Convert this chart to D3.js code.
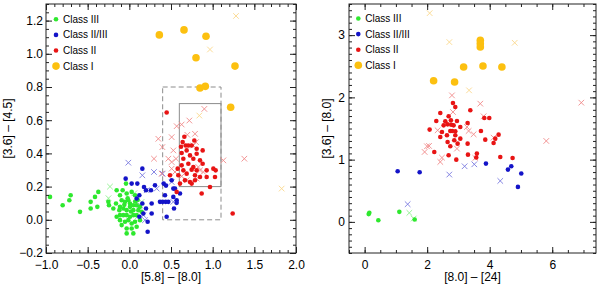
<!DOCTYPE html>
<html>
<head>
<meta charset="utf-8">
<script src="https://cdn.jsdelivr.net/npm/d3@7"></script>
<style>
  body { margin: 0; background: #fff; }
  svg { font-family: "Liberation Sans", Arial, Helvetica, sans-serif; }
</style>
</head>
<body>
<div id="chart-area"></div>
<script>
// ---- data: left panel  ([5.8]-[8.0] vs [3.6]-[4.5]) ----
let leftClassIII = [[-0.952,0.138],[-0.8,0.088],[-0.72,0.118],[-0.704,0.148],[-0.592,0.048],[-0.464,0.108],[-0.464,0.068],
  [-0.412,0.138],[-0.372,0.168],[-0.384,0.078],[-0.252,0.108],[-0.244,0.088],[-0.152,0.178],[-0.04,0.218],[-0.08,0.178],
  [-0.112,0.148],[-0.032,0.158],[0.028,0.168],[0.068,0.148],[-0.092,0.118],[-0.052,0.108],[-0.012,0.118],[0.008,0.098],
  [0.048,0.088],[0.088,0.088],[-0.112,0.078],[-0.072,0.068],[-0.032,0.058],[0.008,0.078],[0.048,0.058],[0.108,0.058],
  [-0.112,0.028],[-0.072,0.028],[-0.032,0.028],[0.008,0.018],[0.048,0.028],[0.088,0.028],[-0.112,-0.002],[-0.052,-0.012],
  [-0.012,-0.002],[0.028,-0.022],[0.068,-0.012],[-0.092,-0.032],[-0.032,-0.052],[0.028,-0.052],[0.088,-0.042],
  [-0.032,-0.082],[0.048,-0.082],[-0.12,0.058],[0.128,0.078],[0.148,0.048],[-0.16,0.098],[-0.192,0.068],[0.128,-0.002],
  [-0.152,0.018],[-0.06,0.09],[0.02,0.05],[0.07,0.11],[-0.02,0.13],[0.1,0.12]]
let leftClassIIIx = [[-0.232,0.2],[0.148,0.108],[0.1,0.02],[-0.25,0.13],[0.06,0.16]]

let leftClassIIIII = [[0.156,0.308],[-0.044,0.248],[0.028,0.218],[0.096,0.218],[0.176,0.198],[0.2,0.178],[0.26,0.178],
  [0.12,0.148],[0.088,0.128],[0.156,0.098],[0.268,0.098],[0.2,0.068],[0.168,0.038],[0.268,0.038],[0.12,0.018],
  [0.22,-0.012],[0.22,-0.072],[0.368,0.108],[0.4,0.108],[0.436,0.108],[0.468,0.108],[0.428,0.148],[0.412,0.218],
  [0.528,0.138],[0.568,0.102],[0.448,0.018],[0.608,0.158],[0.528,0.188],[0.308,0.208],[0.44,0.206],[0.508,0.238],
  [0.548,0.188],[0.536,0.068],[0.568,0.118]]
let leftClassIIIIIx = [[-0.012,0.344],[0.156,0.268],[0.296,0.288],[0.4,0.278],[0.208,0.178],[0.328,0.188],
  [0.528,0.108],[0.188,-0.002],[0.168,0.028],[0.128,0.088],[0.508,0.228]]

let leftClassII = [[0.448,0.646],[0.64,0.468],[0.676,0.448],[0.708,0.448],[0.748,0.448],[0.78,0.478],[0.808,0.428],
  [0.688,0.418],[0.628,0.402],[0.728,0.388],[0.808,0.398],[0.88,0.418],[0.648,0.368],[0.768,0.368],[0.848,0.358],
  [0.708,0.338],[0.628,0.328],[0.768,0.318],[0.88,0.338],[0.58,0.308],[0.648,0.298],[0.748,0.302],[0.808,0.298],
  [0.928,0.298],[0.488,0.268],[0.588,0.268],[0.688,0.278],[0.788,0.268],[0.848,0.258],[1.008,0.308],[1.036,0.298],
  [0.668,0.238],[0.728,0.228],[0.788,0.238],[0.928,0.258],[1.028,0.258],[0.608,0.218],[0.748,0.218],[0.568,0.168],
  [0.868,0.158],[0.968,0.198],[1.24,0.038],[0.66,0.5],[0.62,0.44]]
let leftClassIIx = [[0.9,0.668],[0.72,0.598],[0.628,0.574],[0.568,0.564],[0.348,0.488],[0.508,0.498],[0.696,0.512],
  [0.788,0.518],[0.8,0.468],[0.396,0.438],[0.528,0.418],[0.768,0.448],[0.296,0.368],[0.468,0.368],[0.56,0.368],
  [1.128,0.358],[1.38,0.368],[0.508,0.308],[0.848,0.298],[0.388,0.278],[0.808,0.248],[0.508,0.348],[0.548,0.288],
  [0.628,0.262],[0.688,0.238],[0.828,0.318],[0.888,0.288]]

let leftClassI = [[0.36,1.114],[0.656,1.144],[0.92,1.106],[0.8,0.976],[1.268,0.926],[0.848,0.794],[0.912,0.804],[1.216,0.678]]
let leftClassIx = [[1.28,1.228],[0.968,1.026],[0.84,0.628],[1.828,0.188]]

// colour-colour boxes (x0, x1, y0, y1)
let dashedBox = [0.4, 1.1, 0.0, 0.8]
let solidBox = [0.6, 1.1, 0.2, 0.7]

// ---- data: right panel ([8.0]-[24] vs [3.6]-[8.0]) ----
let rightClassIII = [[0.15,0.145],[0.13,0.125],[0.438,0.027],[1.11,0.161],[1.6,0.038]]
let rightClassIIIx = [[1.43,0.145],[1.57,0.054]]

let rightClassIIIII = [[1.056,0.813],[1.76,0.797],[3.88,0.936],[4.583,0.84],[4.69,0.893],[5.01,0.776],[4.903,0.562]]
let rightClassIIIIIx = [[2.708,0.76],[3.198,0.893],[3.507,0.925],[4.338,0.658],[1.376,0.284]]

let rightClassII = [[2.825,1.91],[2.9,1.845],[2.42,1.749],[2.687,1.696],[3.38,1.792],[2.58,1.615],[2.76,1.631],
  [2.953,1.621],[2.292,1.621],[2.527,1.551],[2.655,1.567],[2.846,1.551],[2.74,1.46],[2.9,1.455],[3.06,1.524],
  [3.294,1.589],[3.827,1.669],[3.986,1.669],[2.079,1.482],[2.473,1.444],[2.633,1.391],[2.9,1.391],[3.06,1.337],
  [2.42,1.364],[2.867,1.311],[2.654,1.284],[2.74,1.214],[2.974,1.257],[3.294,1.257],[3.72,1.46],[3.858,1.321],
  [4.178,1.337],[4.285,1.401],[4.125,1.268],[2.228,1.123],[2.686,1.07],[2.931,1.0],[3.305,1.08],[3.59,1.097],
  [3.57,1.033],[4.338,1.043],[4.732,1.027],[2.8,1.46],[2.77,1.56]]
let rightClassIIx = [[2.793,2.032],[2.825,1.765],[1.994,1.214],[1.919,1.123],[2.473,1.032],[2.42,0.963],[2.335,1.471],
  [3.326,1.46],[3.486,1.407],[3.699,1.899],[3.805,1.696],[4.125,1.353],[2.953,1.177],[3.539,1.027],[3.273,1.524],
  [6.93,1.915],[5.81,1.3],[2.06,1.22]]

let rightClassI = [[3.7,2.915],[3.7,2.86],[3.7,2.81],[3.785,2.503],[4.39,2.487],[3.166,2.487],[2.206,2.268],[2.877,2.246]]
let rightClassIx = [[2.08,3.353],[2.71,2.888],[4.8,2.877],[3.34,2.113]]

// ---- ticks & labels ----
let leftXMajor = [-1.0, -0.5, 0.0, 0.5, 1.0, 1.5, 2.0]
let leftYMajor = [-0.2, 0.0, 0.2, 0.4, 0.6, 0.8, 1.0, 1.2]
let rightXMajor = [0, 2, 4, 6]
let rightYMajor = [0, 1, 2, 3]
let legendNames = ["Class III", "Class II/III", "Class II", "Class I"]
let classColors = ["#2ee82e", "#1414c8", "#e81414", "#fcc010"]
let crossColors = ["#8ef08e", "#7a7ae0", "#f08a8a", "#fad88c"]

let W = 600, H = 285

let svg = d3.select("#chart-area")
  .append("svg")
    .attr("width", W)
    .attr("height", H)

function minorTicks(domain, step) {
  let out = []
  let start = Math.ceil(domain[0] / step - 1e-9)
  let end = Math.floor(domain[1] / step + 1e-9)
  for (let i = start; i <= end; i++) out.push(+(i * step).toFixed(6))
  return out
}

function drawPanel(p) {
  let x = d3.scaleLinear().domain(p.xDomain).range(p.xRange)
  let y = d3.scaleLinear().domain(p.yDomain).range(p.yRange)
  let g = svg.append("g")

  let clipId = "clip" + p.name
  svg.append("clipPath").attr("id", clipId)
    .append("rect")
      .attr("x", p.xRange[0]).attr("y", p.yRange[1])
      .attr("width", p.xRange[1] - p.xRange[0])
      .attr("height", p.yRange[0] - p.yRange[1])

  let plot = g.append("g").attr("clip-path", "url(#" + clipId + ")")

  // boxes
  if (p.boxes) {
    p.boxes.forEach(b => {
      plot.append("rect")
        .attr("x", x(b.box[0])).attr("y", y(b.box[3]))
        .attr("width", x(b.box[1]) - x(b.box[0]))
        .attr("height", y(b.box[2]) - y(b.box[3]))
        .attr("fill", "none")
        .attr("stroke", "#8c8c8c")
        .attr("stroke-width", 1)
        .attr("stroke-dasharray", b.dashed ? "5,3" : null)
    })
  }

  let cs = 2.8
  function crosses(data, color) {
    plot.append("g").selectAll("path").data(data).enter()
      .append("path")
        .attr("d", d => {
          let cx = x(d[0]), cy = y(d[1])
          return "M" + (cx - cs) + "," + (cy - cs) + "L" + (cx + cs) + "," + (cy + cs) +
                 "M" + (cx - cs) + "," + (cy + cs) + "L" + (cx + cs) + "," + (cy - cs)
        })
        .attr("stroke", color)
        .attr("stroke-width", 0.9)
        .attr("fill", "none")
  }
  function dots(data, color, r) {
    plot.append("g").selectAll("circle").data(data).enter()
      .append("circle")
        .attr("cx", d => x(d[0]))
        .attr("cy", d => y(d[1]))
        .attr("r", r)
        .attr("fill", color)
  }

  crosses(p.classIIIx, crossColors[0])
  crosses(p.classIIIIIx, crossColors[1])
  crosses(p.classIIx, crossColors[2])
  crosses(p.classIx, crossColors[3])
  dots(p.classIII, classColors[0], 2.3)
  dots(p.classIIIII, classColors[1], 2.3)
  dots(p.classII, classColors[2], 2.3)
  dots(p.classI, classColors[3], 3.8)

  // axes: ticks on all four sides, pointing inward
  let xMinor = minorTicks(p.xDomain, p.xMinorStep)
  let yMinor = minorTicks(p.yDomain, p.yMinorStep)
  let x0 = p.xRange[0], x1 = p.xRange[1], y0 = p.yRange[0], y1 = p.yRange[1]

  function tickAxis(axisFn, scale, values, size, tx, ty, labels, fmt, pad) {
    let a = axisFn(scale).tickValues(values).tickSize(-size).tickSizeOuter(0).tickPadding(pad || 3)
    a.tickFormat(labels ? fmt : "")
    let ag = g.append("g")
      .attr("transform", "translate(" + tx + "," + ty + ")")
      .call(a)
    ag.select(".domain").remove()
    ag.selectAll("line").attr("stroke", "#222")
    ag.selectAll("text").attr("font-size", "12px").attr("fill", "#000")
      .attr("font-family", "'Liberation Sans', Arial, Helvetica, sans-serif")
    return ag
  }

  tickAxis(d3.axisBottom, x, xMinor, 3, 0, y0, false)
  tickAxis(d3.axisTop, x, xMinor, 3, 0, y1, false)
  tickAxis(d3.axisLeft, y, yMinor, 3, x0, 0, false)
  tickAxis(d3.axisRight, y, yMinor, 3, x1, 0, false)
  tickAxis(d3.axisBottom, x, p.xMajor, 6, 0, y0, true, p.xFmt, 7)
  tickAxis(d3.axisTop, x, p.xMajor, 6, 0, y1, false)
  tickAxis(d3.axisLeft, y, p.yMajor, 6, x0, 0, true, p.yFmt, p.yPad)
  tickAxis(d3.axisRight, y, p.yMajor, 6, x1, 0, false)

  g.append("rect")
    .attr("x", x0).attr("y", y1)
    .attr("width", x1 - x0).attr("height", y0 - y1)
    .attr("fill", "none")
    .attr("stroke", "#222")
    .attr("stroke-width", 1)

  // axis labels
  g.append("text")
    .attr("x", (x0 + x1) / 2)
    .attr("y", 281)
    .attr("font-size", "12px")
    .attr("text-anchor", "middle")
    .style("fill", "black")
    .text(p.xLabel)

  g.append("text")
    .attr("transform", "translate(" + p.yLabelX + "," + ((y0 + y1) / 2) + ") rotate(-90)")
    .attr("font-size", "12px")
    .attr("text-anchor", "middle")
    .style("fill", "black")
    .text(p.yLabel)

  // legend
  let leg = g.append("g")
  legendNames.forEach((name, i) => {
    let ly = p.legendY + i * 15.6
    leg.append("circle")
      .attr("cx", p.legendX)
      .attr("cy", ly)
      .attr("r", i === 3 ? 3.8 : 2.3)
      .attr("fill", classColors[i])
    leg.append("text")
      .attr("x", p.legendX + 7)
      .attr("y", ly)
      .attr("dy", "0.35em")
      .attr("font-size", "10px")
      .style("fill", "black")
      .text(name)
  })
}

drawPanel({
  name: "L",
  xDomain: [-1.0, 2.0], xRange: [46, 296],
  yDomain: [-0.2, 1.3], yRange: [253, 4],
  xMajor: leftXMajor, yMajor: leftYMajor,
  xMinorStep: 0.1, yMinorStep: 0.05,
  xFmt: d3.format(".1f"), yFmt: d3.format(".1f"), yPad: 3,
  xLabel: "[5.8] \u2013 [8.0]", yLabel: "[3.6] \u2013 [4.5]", yLabelX: 12,
  classIII: leftClassIII, classIIIx: leftClassIIIx,
  classIIIII: leftClassIIIII, classIIIIIx: leftClassIIIIIx,
  classII: leftClassII, classIIx: leftClassIIx,
  classI: leftClassI, classIx: leftClassIx,
  boxes: [{box: dashedBox, dashed: true}, {box: solidBox, dashed: false}],
  legendX: 56, legendY: 19.3
})

drawPanel({
  name: "R",
  xDomain: [-0.5, 7.4], xRange: [349, 596],
  yDomain: [-0.5, 3.5], yRange: [253, 4],
  xMajor: rightXMajor, yMajor: rightYMajor,
  xMinorStep: 0.5, yMinorStep: 0.1,
  xFmt: d3.format("d"), yFmt: d3.format("d"), yPad: 4,
  xLabel: "[8.0] \u2013 [24]", yLabel: "[3.6] \u2013 [8.0]", yLabelX: 331,
  classIII: rightClassIII, classIIIx: rightClassIIIx,
  classIIIII: rightClassIIIII, classIIIIIx: rightClassIIIIIx,
  classII: rightClassII, classIIx: rightClassIIx,
  classI: rightClassI, classIx: rightClassIx,
  boxes: null,
  legendX: 358.3, legendY: 18.5
})
</script>
</body>
</html>
